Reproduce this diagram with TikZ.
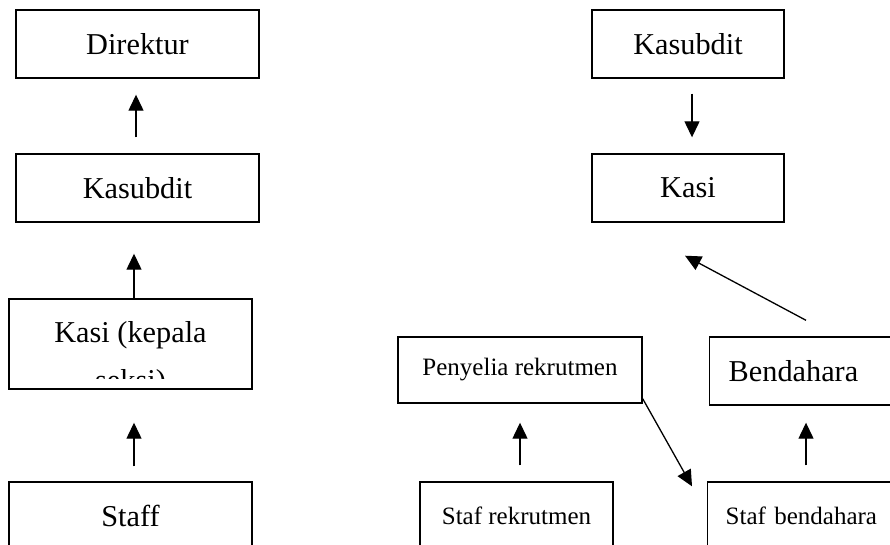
\documentclass[tikz,border=0pt]{standalone}
\usepackage{fontspec}
\setmainfont{Liberation Serif}
\usetikzlibrary{arrows.meta}
\tikzset{
  box/.style={draw=black, line width=1.4pt, rectangle, inner sep=0pt},
  big/.style={font=\fontsize{30.3}{35}\selectfont},
  small/.style={font=\fontsize{25}{30}\selectfont},
  arr/.style={line width=1.3pt, -{Triangle[length=16pt,width=15pt]}}
}
\begin{document}
\begin{tikzpicture}[x=1pt,y=-1pt]
\clip (0,0) rectangle (890,544);
\fill[white] (0,0) rectangle (890,544);
% left column
\node[box,big,minimum width=243pt,minimum height=68pt] (dir) at (137.5,44) {Direktur};
\node[box,big,minimum width=243pt,minimum height=68pt] (kasub) at (137.5,188) {Kasubdit};
\node[box,minimum width=243pt,minimum height=90pt] (kasi) at (130.5,344) {};
\begin{scope}
  \clip (9,299) rectangle (252,378);
  \node[big,anchor=base,inner sep=0pt] (kasiA) at (130.5,342) {Kasi (kepala};
  \node[big,anchor=base,inner sep=0pt] (kasiB) at (130.5,390) {seksi)};
\end{scope}
\node[box,big,minimum width=243pt,minimum height=68pt] (staff) at (130.5,516) {Staff};
% right part
\node[box,big,minimum width=192pt,minimum height=68pt] (rkasub) at (688,44) {Kasubdit};
\node[box,big,minimum width=192pt,minimum height=68pt] (rkasi) at (688,188) {Kasi};
\node[box,small,minimum width=244pt,minimum height=66pt] (peny) at (520,370) {Penyelia rekrutmen};
\node[box,big,minimum height=68pt,anchor=west,inner xsep=19pt,text width=172pt,align=left] (bend) at (709,371) {Bendahara};
\node[box,small,minimum width=193pt,minimum height=68pt] (stafr) at (516.5,516) {Staf rekrutmen};
\node[box,small,minimum height=68pt,anchor=west,inner xsep=18pt,text width=176pt,align=left] (stafb) at (707,516) {Staf bendahara};
% arrows
\draw[arr] ([xshift=-1.5pt,yshift=16pt]kasub.north) -- ([xshift=-1.5pt,yshift=-16pt]dir.south);
\draw[arr] ([xshift=3.5pt]kasi.north) -- ([xshift=-3.5pt,yshift=-31pt]kasub.south);
\draw[arr] ([xshift=3.5pt,yshift=15pt]staff.north) -- ([xshift=3.5pt,yshift=-33pt]kasi.south);
\draw[arr] ([xshift=4pt,yshift=-15pt]rkasub.south) -- ([xshift=4pt,yshift=16pt]rkasi.north);
\draw[arr] ([xshift=97pt,yshift=16pt]bend.north west) -- ([xshift=-3pt,yshift=-33pt]rkasi.south);
\draw[arr] ([yshift=5pt]peny.south east) -- ([xshift=-15pt,yshift=-5pt]stafb.north west);
\draw[arr] ([xshift=3.5pt,yshift=16pt]stafr.north) -- ([yshift=-19pt]peny.south);
\draw[arr] ([xshift=99pt,yshift=16pt]stafb.north west) -- ([xshift=97pt,yshift=-17pt]bend.south west);
\end{tikzpicture}
\end{document}
